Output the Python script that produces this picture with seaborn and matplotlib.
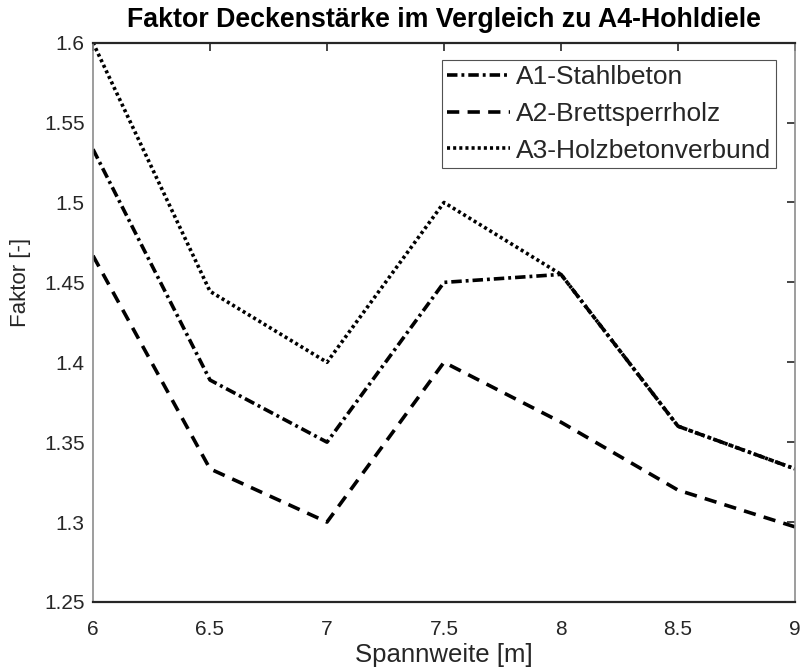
import matplotlib
matplotlib.use("Agg")
import matplotlib.pyplot as plt
from matplotlib.lines import Line2D
import pandas as pd
import seaborn as sns

# Span lengths [m]
spannweite = [6.0, 6.5, 7.0, 7.5, 8.0, 8.5, 9.0]

# Thickness factor relative to the A4 hollow-core slab
a1_stahlbeton = [1.5333, 1.3889, 1.35, 1.45, 1.455, 1.36, 1.3333]
a2_brettsperrholz = [1.4667, 1.3333, 1.30, 1.40, 1.3625, 1.32, 1.297]
a3_holzbetonverbund = [1.60, 1.4444, 1.40, 1.50, 1.455, 1.36, 1.3333]

series_names = ["A1-Stahlbeton", "A2-Brettsperrholz", "A3-Holzbetonverbund"]

x_ticks = [6, 6.5, 7, 7.5, 8, 8.5, 9]
x_tick_labels = ["6", "6.5", "7", "7.5", "8", "8.5", "9"]
y_ticks = [1.25, 1.3, 1.35, 1.4, 1.45, 1.5, 1.55, 1.6]
y_tick_labels = ["1.25", "1.3", "1.35", "1.4", "1.45", "1.5", "1.55", "1.6"]

df = pd.DataFrame({
    "Spannweite": spannweite * 3,
    "Faktor": a1_stahlbeton + a2_brettsperrholz + a3_holzbetonverbund,
    "Variante": [n for n in series_names for _ in spannweite],
})

sns.set_theme(style="white")
plt.rcParams["font.family"] = ["Liberation Sans", "DejaVu Sans"]
text_col = "#262626"

fig = plt.figure(figsize=(8.01, 6.67), dpi=100)
ax = fig.add_axes([0.1161, 0.0975, 0.8764, 0.8385])

dash_styles = {
    "A1-Stahlbeton": (2.9, 1.1, 0.8, 1.1),
    "A2-Brettsperrholz": (3.4, 2.3),
    "A3-Holzbetonverbund": (0.85, 0.85),
}

# A3 drawn first so the dash-dot line lies on top where they share values
order = ["A3-Holzbetonverbund", "A2-Brettsperrholz", "A1-Stahlbeton"]
sns.lineplot(
    data=df, x="Spannweite", y="Faktor", style="Variante",
    style_order=series_names, dashes=dash_styles,
    linewidth=2.6, ax=ax, legend=False, sort=False,
    hue="Variante", hue_order=order, palette=["black"] * 3,
)

for line in ax.get_lines():
    line.set_solid_capstyle("butt")
    line.set_dash_capstyle("butt")

ax.set_xlim(6, 9)
ax.set_ylim(1.25, 1.6)
ax.set_xticks(x_ticks)
ax.set_xticklabels(x_tick_labels)
ax.set_yticks(y_ticks)
ax.set_yticklabels(y_tick_labels)

ax.tick_params(axis="both", which="major", direction="in", length=6, width=1.2,
               top=True, right=True, labelsize=15, colors=text_col)
ax.tick_params(axis="x", pad=13)
ax.tick_params(axis="y", pad=6)
for side in ["top", "bottom"]:
    ax.spines[side].set_color(text_col)
    ax.spines[side].set_linewidth(1.6)
for side in ["left", "right"]:
    ax.spines[side].set_color("#8c8c8c")
    ax.spines[side].set_linewidth(1.2)

ax.set_xlabel("Spannweite [m]", fontsize=18.5, color=text_col, labelpad=3)
ax.set_ylabel("Faktor [-]", fontsize=16, color=text_col)
ax.yaxis.set_label_coords(-0.088, (1.45 - 1.25) / 0.35)
ax.set_title("Faktor Deckenstärke im Vergleich zu A4-Hohldiele",
             fontsize=19.3, fontweight="bold", color="black", pad=11)

leg_handles = [Line2D([0], [0], color="black", linewidth=2.6,
                      dashes=dash_styles[n]) for n in series_names]
leg = ax.legend(leg_handles, series_names, loc="upper right",
                bbox_to_anchor=(0.973, 0.969), fontsize=19, frameon=True,
                fancybox=False, edgecolor="#262626", handlelength=2.4,
                handletextpad=0.2, borderpad=0.2, labelspacing=0.48,
                borderaxespad=0.0)
leg.get_frame().set_linewidth(0.8)
for t in leg.get_texts():
    t.set_color(text_col)

fig.savefig("out.png", dpi=100)
